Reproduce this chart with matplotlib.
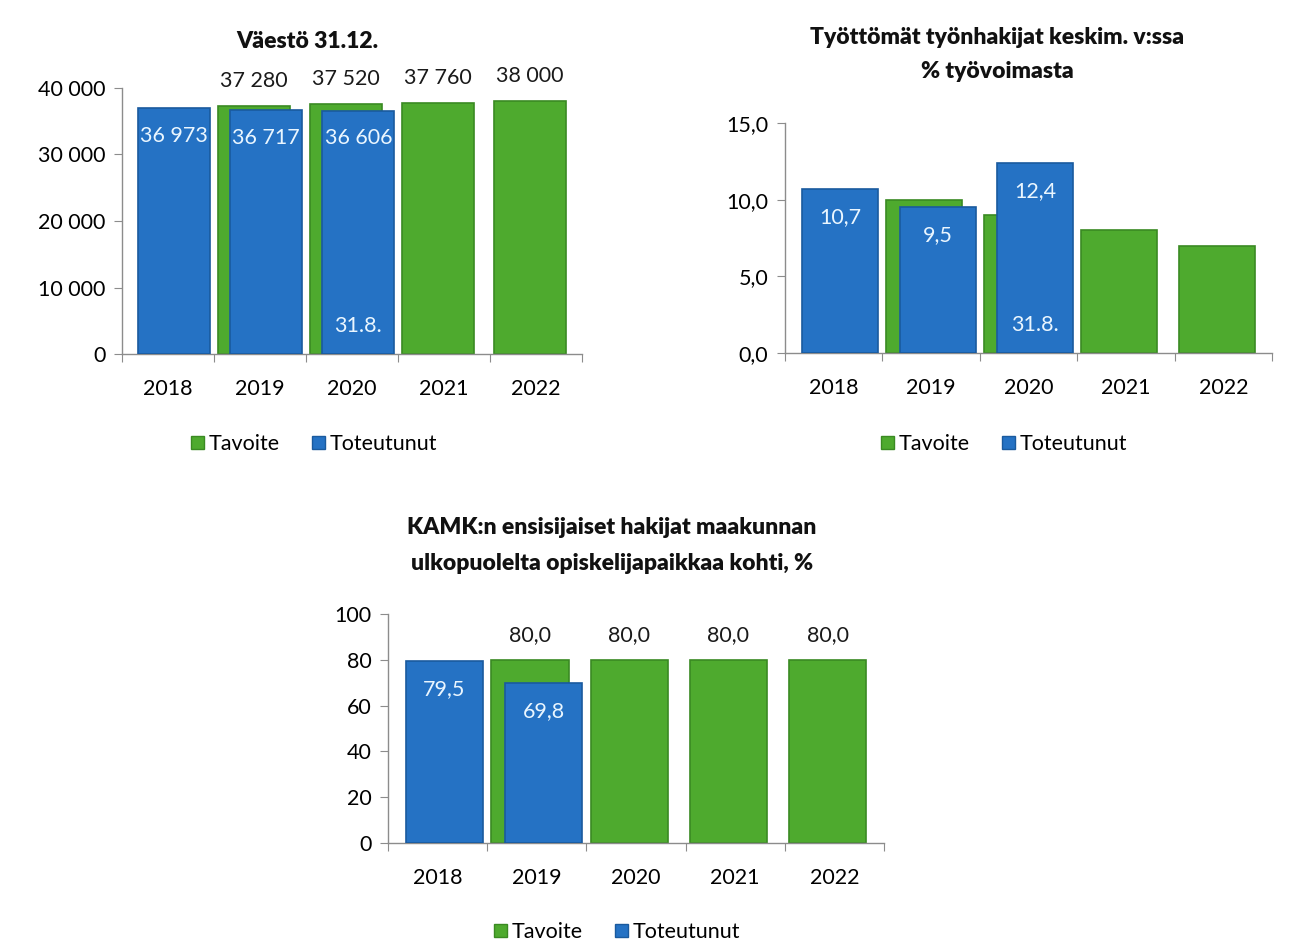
import numpy as np
import matplotlib
matplotlib.use("Agg")
import matplotlib.pyplot as plt
from matplotlib.patches import Patch

plt.rcParams['font.family'] = ['Lato', 'DejaVu Sans']

# Data.
years = ['2018', '2019', '2020', '2021', '2022']
nan = np.nan

vaesto_tavoite = [nan, 37280, 37520, 37760, 38000]
vaesto_toteutunut = [36973, 36717, 36606, nan, nan]

tyott_tavoite = [nan, 10.0, 9.0, 8.0, 7.0]
tyott_toteutunut = [10.7, 9.5, 12.4, nan, nan]

kamk_tavoite = [nan, 80.0, 80.0, 80.0, 80.0]
kamk_toteutunut = [79.5, 69.8, nan, nan, nan]

note_text = '31.8.'
note_year = '2020'

GREEN = '#4eaa2e'
GREEN_EDGE = '#3a8a22'
BLUE = '#2572c4'
BLUE_EDGE = '#1a5a9e'
AXIS = '#8c8c8c'
FS = 15.5


def fmt_thousands(v):
    return f'{v:,.0f}'.replace(',', ' ')


def fmt_decimal(v):
    return f'{v:.1f}'.replace('.', ',')


def fmt_int(v):
    return f'{v:.0f}'


def draw_panel(ax, tavoite, toteutunut, ymax, step, tick_fmt, label_fmt,
               green_labels=True, note=False):
    x = np.arange(len(years))
    w = 0.78
    off = 0.068
    ax.bar(x - off, tavoite, w, color=GREEN, edgecolor=GREEN_EDGE, lw=1.2, zorder=2)
    ax.bar(x + off, toteutunut, w, color=BLUE, edgecolor=BLUE_EDGE, lw=1.2, zorder=3)

    for i in range(len(years)):
        t = tavoite[i]
        if green_labels and not np.isnan(t):
            ax.annotate(label_fmt(t), (x[i] - off, t), xytext=(0, 18),
                        textcoords='offset points', ha='center', va='center',
                        fontsize=FS, color='#1a1a1a', zorder=5)
        r = toteutunut[i]
        if not np.isnan(r):
            ax.annotate(label_fmt(r), (x[i] + off, r), xytext=(0, -20),
                        textcoords='offset points', ha='center', va='center',
                        fontsize=FS, color='#eaf6ff', zorder=5)
            if note and years[i] == note_year:
                ax.annotate(note_text, (x[i] + off, 0), xytext=(0, 20),
                            textcoords='offset points', ha='center', va='center',
                            fontsize=FS, color='#eaf6ff', zorder=5)

    ax.set_xlim(-0.5, len(years) - 0.5)
    ax.set_ylim(0, ymax)
    yt = np.arange(0, ymax + step / 2, step)
    ax.set_yticks(yt)
    ax.set_yticklabels([tick_fmt(v) for v in yt])
    ax.set_xticks(np.arange(-0.5, len(years)), minor=False)
    ax.set_xticklabels([])
    ax.set_xticks(x, minor=True)
    ax.set_xticklabels(years, minor=True)
    ax.tick_params(axis='x', which='major', length=6, color=AXIS, direction='out')
    ax.tick_params(axis='x', which='minor', length=0, pad=18, labelsize=FS)
    ax.tick_params(axis='y', length=6, color=AXIS, pad=6, labelsize=FS)
    for s in ('top', 'right'):
        ax.spines[s].set_visible(False)
    for s in ('left', 'bottom'):
        ax.spines[s].set_color(AXIS)
        ax.spines[s].set_linewidth(1.0)
    ax.set_facecolor('none')


fig = plt.figure(figsize=(13.06, 9.47), dpi=100)

ax1 = fig.add_axes([122 / 1306, 1 - 354 / 947, 460 / 1306, 266 / 947])
ax2 = fig.add_axes([785 / 1306, 1 - 353 / 947, 487 / 1306, 230 / 947])
ax3 = fig.add_axes([388 / 1306, 1 - 843 / 947, 496 / 1306, 229 / 947])

draw_panel(ax1, vaesto_tavoite, vaesto_toteutunut, 40000, 10000,
           fmt_thousands, fmt_thousands, green_labels=True, note=True)
draw_panel(ax2, tyott_tavoite, tyott_toteutunut, 15.0, 5.0,
           fmt_decimal, fmt_decimal, green_labels=False, note=True)
draw_panel(ax3, kamk_tavoite, kamk_toteutunut, 100, 20,
           fmt_int, fmt_decimal, green_labels=True, note=False)

title_kw = dict(ha='center', va='center', fontsize=16.5, fontweight='heavy', color='#111111')
fig.text(307 / 1306, 1 - 42 / 947, 'Väestö 31.12.', **title_kw)
fig.text(997 / 1306, 1 - 38 / 947, 'Työttömät työnhakijat keskim. v:ssa', **title_kw)
fig.text(997 / 1306, 1 - 72 / 947, '% työvoimasta', **title_kw)
fig.text(612 / 1306, 1 - 528 / 947, 'KAMK:n ensisijaiset hakijat maakunnan', **title_kw)
fig.text(612 / 1306, 1 - 563 / 947, 'ulkopuolelta opiskelijapaikkaa kohti, %', **title_kw)

handles = [Patch(facecolor=GREEN, edgecolor=GREEN_EDGE, label='Tavoite'),
           Patch(facecolor=BLUE, edgecolor=BLUE_EDGE, label='Toteutunut')]
leg_kw = dict(handles=handles, ncol=2, frameon=False, fontsize=FS, handlelength=0.6,
              handleheight=0.6, handletextpad=0.2, columnspacing=1.5, loc='center')
fig.legend(bbox_to_anchor=(314 / 1306, 1 - 444 / 947), **leg_kw)
fig.legend(bbox_to_anchor=(1004 / 1306, 1 - 444 / 947), **leg_kw)
fig.legend(bbox_to_anchor=(617 / 1306, 1 - 932 / 947), **leg_kw)

fig.savefig('out.png', dpi=100, facecolor='white')
